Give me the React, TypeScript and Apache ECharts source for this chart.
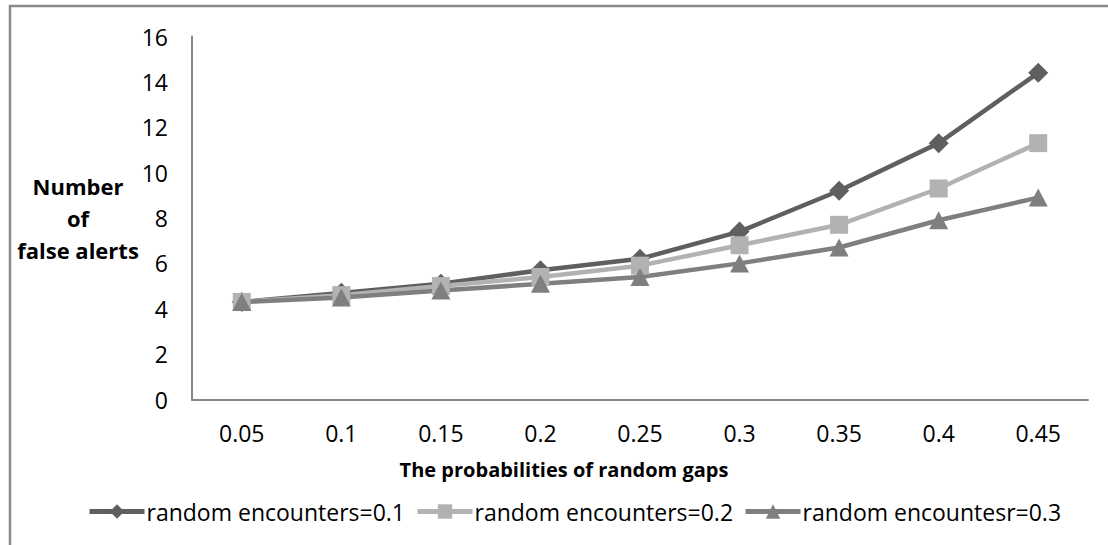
import React, { useEffect, useRef } from "react";
import * as echarts from "echarts";

// Probability of random gaps (x categories)
const gapProbabilities = ["0.05", "0.1", "0.15", "0.2", "0.25", "0.3", "0.35", "0.4", "0.45"];

// Number of false alerts per random-encounter setting
const encounters01 = [4.3, 4.7, 5.1, 5.7, 6.2, 7.4, 9.2, 11.3, 14.4];
const encounters02 = [4.3, 4.6, 5.0, 5.4, 5.9, 6.8, 7.7, 9.3, 11.3];
const encounters03 = [4.3, 4.5, 4.8, 5.1, 5.4, 6.0, 6.7, 7.9, 8.9];

const seriesNames = [
  "random encounters=0.1",
  "random encounters=0.2",
  "random encountesr=0.3",
];

const yTicks = { min: 0, max: 16, interval: 2 };

const FONT = "'Open Sans', Lato, sans-serif";
const FS = 23;

export default function App() {
  const ref = useRef<HTMLDivElement>(null);

  useEffect(() => {
    if (!ref.current) return;
    const chart = echarts.init(ref.current, null, { renderer: "svg" });

    const line = (name: string, data: number[], color: string, symbol: string, size: number | number[]) => ({
      name,
      type: "line",
      data,
      symbol,
      symbolSize: size,
      showSymbol: true,
      lineStyle: { color, width: 4.5 },
      itemStyle: { color, borderWidth: 0 },
    });

    chart.setOption({
      animation: false,
      backgroundColor: "#ffffff",
      textStyle: { fontFamily: FONT },
      grid: { left: 192, right: 20, top: 36.5, bottom: 145.5, containLabel: false },
      xAxis: {
        type: "category",
        data: gapProbabilities,
        boundaryGap: true,
        axisLine: { show: true, lineStyle: { color: "#868686", width: 2 } },
        axisTick: { show: false },
        splitLine: { show: false },
        axisLabel: { color: "#000", fontSize: FS, fontFamily: FONT, margin: 22 },
      },
      yAxis: {
        type: "value",
        min: yTicks.min,
        max: yTicks.max,
        interval: yTicks.interval,
        axisLine: { show: true, lineStyle: { color: "#868686", width: 2 } },
        axisTick: { show: false },
        splitLine: { show: false },
        axisLabel: { color: "#000", fontSize: FS, fontFamily: FONT, margin: 24 },
      },
      legend: {
        show: true,
        left: 82,
        top: 495,
        itemWidth: 55,
        itemHeight: 18,
        itemGap: 10,
        lineStyle: { width: 5 },
        textStyle: { color: "#000", fontSize: FS, fontFamily: FONT, padding: [0, 0, 0, -3] },
        data: seriesNames,
      },
      graphic: [
        {
          type: "rect",
          silent: true,
          shape: { x: 10, y: 6, width: 1200, height: 700 },
          style: { fill: "none", stroke: "#8a8a8a", lineWidth: 2.5 },
        },
        {
          type: "text",
          style: {
            x: 564,
            y: 469,
            text: "The probabilities of random gaps",
            align: "center",
            verticalAlign: "middle",
            fontSize: 20,
            fontWeight: "bold",
            fontFamily: FONT,
            fill: "#000",
          },
        },
        {
          type: "text",
          style: {
            x: 78,
            y: 218,
            text: "Number\nof\nfalse alerts",
            align: "center",
            verticalAlign: "middle",
            lineHeight: 32,
            fontSize: 22,
            fontWeight: "bold",
            fontFamily: FONT,
            fill: "#000",
          },
        },
      ],
      series: [
        line(seriesNames[0], encounters01, "#5f5f5f", "diamond", 20),
        line(seriesNames[1], encounters02, "#b2b2b2", "rect", 18),
        line(seriesNames[2], encounters03, "#7f7f7f", "triangle", [19, 18]),
      ],
    });

    return () => chart.dispose();
  }, []);

  return (
    <div
      ref={ref}
      style={{ position: "absolute", left: 0, top: 0, width: 1108, height: 545 }}
    />
  );
}
